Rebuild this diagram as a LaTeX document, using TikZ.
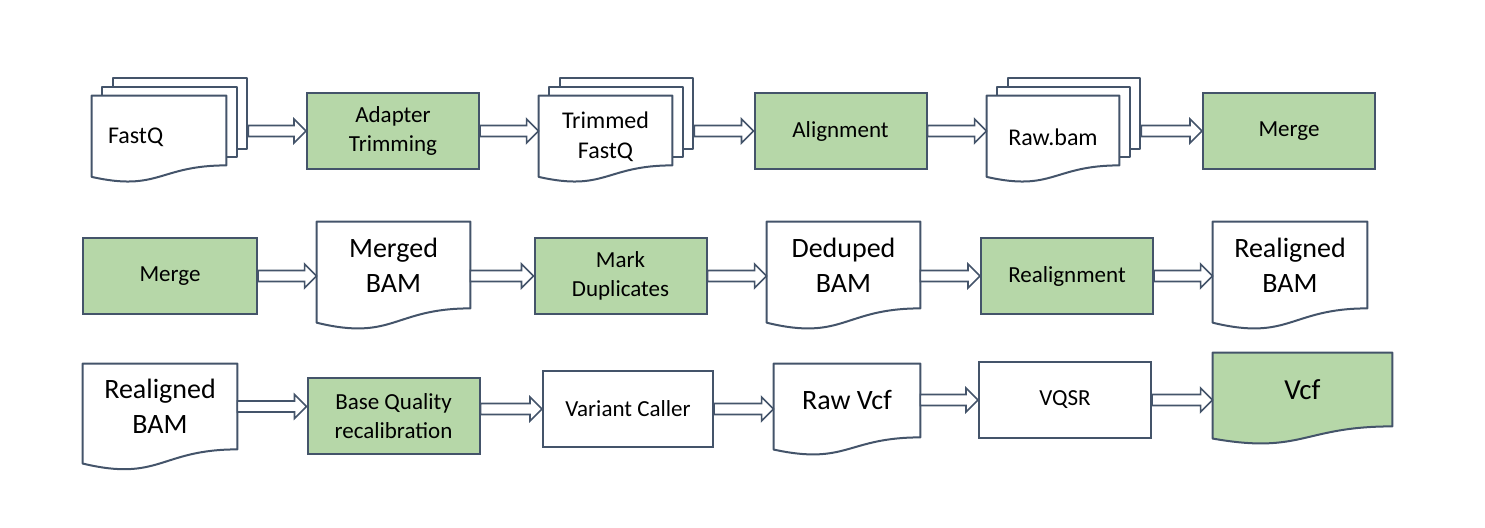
\documentclass[tikz,border=0pt]{standalone}
\usepackage{fontspec}
\setmainfont{Carlito}
\usetikzlibrary{calc,backgrounds}
\definecolor{edgec}{HTML}{44546A}
\definecolor{stepgreen}{HTML}{B6D7A8}
\tikzset{
  box/.style={draw=edgec, line width=1pt, minimum width=86pt, minimum height=38pt,
    inner sep=0pt, align=center, font=\fontsize{11.5}{14.5}\selectfont},
  greenbox/.style={box, fill=stepgreen},
  doc/.style={inner sep=0pt, align=center, font=\fontsize{14}{17.5}\selectfont},
  smalldoc/.style={doc, minimum height=34.5pt},
  doctext/.style={inner sep=0pt, align=center, font=\fontsize{12}{15}\selectfont},
  docline/.style={draw=edgec, line width=1pt, line join=round},
  flowline/.style={draw=edgec, line width=0.8pt, fill=white, line join=miter}
}
% document outline under a node, wavy bottom below it
\newcommand{\docshape}[2][white]{%
  \path[docline, fill=#1] let \p1=(#2.north west), \p2=(#2.south east), \p3=(#2.south),
      \n1={\y1-\y2} in
    (\p1) -- (\x2,\y1) -- (\p2) .. controls (\x3,\y2) and (\x3,\y2-0.381*\n1) ..
    (\x1,\y2-0.1646*\n1) -- cycle;}
% two pages stacked behind a document
\newcommand{\backpages}[1]{%
  \foreach \k in {2,1}
    \path[docline, fill=white] ([shift={(10.5*\k,-9*\k)}]#1.north west)
      rectangle ([shift={(10.5*\k,-8*\k)}]#1.south east);
  \coordinate (#1 back) at ([xshift=11pt]#1.east);}
% hollow block arrow
\newcommand{\flow}[2]{%
  \path[flowline] let \p1=(#1), \p2=(#2) in
    (\x1,\y1+2.75pt) -- (\x2-6pt,\y1+2.75pt) -- (\x2-6pt,\y1+6pt) -- (\x2,\y1)
    -- (\x2-6pt,\y1-6pt) -- (\x2-6pt,\y1-2.75pt) -- (\x1,\y1-2.75pt) -- cycle;}

\begin{document}
\begin{tikzpicture}[x=0.5pt,y=-0.5pt]
  \useasboundingbox (0,0) rectangle (1485,528);

  % row 1
  \node[smalldoc, minimum width=67pt] (fastq) at (159,130.5) {};
  \node[doctext, anchor=west] (fastq txt) at ([xshift=8pt,yshift=-3.5pt]fastq.west) {FastQ};
  \node[greenbox] (adapt) at (393,131) {Adapter\\Trimming};
  \node[smalldoc, minimum width=66.5pt] (trim) at (605.5,130.5) {};
  \node[doctext] (trim txt) at ([yshift=-3pt]trim.center) {Trimmed\\FastQ};
  \node[greenbox] (align) at (840.5,131) {Alignment};
  \node[smalldoc, minimum width=66pt] (rawbam) at (1053,130.5) {};
  \node[doctext] (rawbam txt) at ([yshift=-3.5pt]rawbam.center) {Raw.bam};
  \node[greenbox] (merge1) at (1289,131) {Merge};

  % row 2
  \node[greenbox, minimum width=87pt] (merge2) at (170,276) {Merge};
  \node[doc, minimum width=76.5pt, minimum height=43pt] (mbam) at (393.5,265) {Merged\\BAM};
  \node[greenbox] (mdup) at (620.5,276) {Mark\\Duplicates};
  \node[doc, minimum width=76.5pt, minimum height=43pt] (dbam) at (843.5,265) {Deduped\\BAM};
  \node[greenbox] (realn) at (1067,276) {Realignment};
  \node[doc, minimum width=77pt, minimum height=43pt] (rbam) at (1290,265) {Realigned\\BAM};

  % row 3
  \node[doc, minimum width=77pt, minimum height=42.5pt] (rbam2) at (160,406.5) {Realigned\\BAM};
  \node[greenbox] (bqr) at (393.5,416.5) {Base Quality\\recalibration};
  \node[box, minimum width=85pt] (vc) at (628,409) {Variant Caller};
  \node[doc, minimum width=73pt, minimum height=36.5pt] (rvcf) at (847,400.5) {Raw Vcf};
  \node[box] (vqsr) at (1065,400) {VQSR};
  \node[doc, minimum width=89.5pt, minimum height=36.5pt, font=\fontsize{14.5}{17}\selectfont] (vcf) at (1302.5,389.5) {Vcf};

  \begin{scope}[on background layer]
    \backpages{fastq}
    \backpages{trim}
    \backpages{rawbam}
    \foreach \d in {fastq,trim,rawbam,mbam,dbam,rbam,rbam2,rvcf} \docshape{\d};
    \docshape[stepgreen]{vcf}
  \end{scope}

  \flow{fastq back |- adapt.west}{adapt.west}
  \flow{adapt.east}{adapt.east -| trim.west}
  \flow{trim back |- align.west}{align.west}
  \flow{align.east}{align.east -| rawbam.west}
  \flow{rawbam back |- merge1.west}{merge1.west}

  \flow{merge2.east}{merge2.east -| mbam.west}
  \flow{mbam.east |- mdup.west}{mdup.west}
  \flow{mdup.east}{mdup.east -| dbam.west}
  \flow{dbam.east |- realn.west}{realn.west}
  \flow{realn.east}{realn.east -| rbam.west}

  \flow{rbam2.east}{rbam2.east -| bqr.west}
  \flow{bqr.east |- vc.west}{vc.west}
  \flow{vc.east}{vc.east -| rvcf.west}
  \flow{rvcf.east |- vqsr.west}{vqsr.west}
  \flow{vqsr.east}{vqsr.east -| vcf.west}
\end{tikzpicture}
\end{document}
